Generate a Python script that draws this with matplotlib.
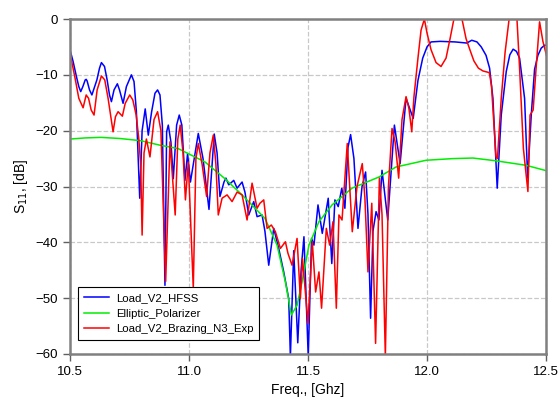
import matplotlib
matplotlib.use('Agg')
import matplotlib.pyplot as plt

plt.rcParams['font.family'] = ['Liberation Sans', 'DejaVu Sans']

# HFSS simulation (freq GHz, dB)
hfss_f = [10.500, 10.513, 10.527, 10.537, 10.545, 10.554, 10.564, 10.568, 10.572, 10.582,
          10.592, 10.613, 10.624, 10.632, 10.645, 10.656, 10.666, 10.674, 10.685, 10.699,
          10.708, 10.723, 10.737, 10.758, 10.769, 10.779, 10.793, 10.803, 10.816, 10.829,
          10.843, 10.857, 10.868, 10.878, 10.888, 10.899, 10.906, 10.913, 10.924, 10.934,
          10.948, 10.959, 10.970, 10.983, 10.994, 11.006, 11.039, 11.059, 11.084, 11.106,
          11.118, 11.130, 11.147, 11.155, 11.167, 11.188, 11.202, 11.223, 11.235, 11.251,
          11.272, 11.286, 11.307, 11.319, 11.335, 11.356, 11.377, 11.398, 11.419, 11.426,
          11.440, 11.457, 11.471, 11.483, 11.501, 11.515, 11.525, 11.542, 11.560, 11.585,
          11.600, 11.613, 11.627, 11.642, 11.655, 11.668, 11.679, 11.693, 11.710, 11.727,
          11.742, 11.752, 11.763, 11.773, 11.786, 11.798, 11.811, 11.835, 11.863, 11.887,
          11.912, 11.942, 11.962, 11.982, 12.000, 12.017, 12.055, 12.118, 12.167, 12.188,
          12.210, 12.228, 12.248, 12.263, 12.277, 12.295, 12.312, 12.333, 12.348, 12.362,
          12.376, 12.389, 12.410, 12.423, 12.438, 12.452, 12.466, 12.480, 12.494, 12.504]
hfss_db = [-5.5, -7.6, -10.3, -12.1, -13.0, -12.1, -10.9, -10.8, -11.1, -12.7,
           -13.6, -10.9, -8.8, -7.8, -8.5, -10.9, -13.6, -14.8, -12.7, -11.6,
           -12.7, -15.1, -12.1, -10.0, -11.2, -16.6, -32.1, -20.0, -16.1, -20.8,
           -16.6, -13.3, -12.7, -13.6, -19.0, -47.7, -20.2, -19.0, -22.0, -28.6,
           -19.0, -17.2, -19.0, -28.9, -24.1, -29.2, -20.5, -25.0, -34.1, -20.6,
           -24.0, -31.8, -29.2, -28.5, -29.7, -28.9, -30.3, -29.2, -31.0, -35.1,
           -32.7, -35.4, -35.1, -38.0, -44.1, -37.5, -41.1, -45.3, -50.1, -60.5,
           -41.5, -58.0, -45.0, -39.0, -60.5, -39.3, -40.5, -33.3, -38.4, -32.1,
           -43.8, -32.4, -33.6, -30.3, -33.9, -23.0, -20.7, -25.0, -37.5, -30.0,
           -27.4, -35.0, -53.6, -38.0, -34.5, -36.0, -27.1, -36.0, -19.0, -25.9,
           -14.2, -17.8, -11.0, -7.0, -5.0, -4.1, -4.0, -4.1, -4.3, -3.8,
           -4.1, -5.0, -6.5, -8.8, -14.2, -30.3, -17.2, -9.4, -6.4, -5.4,
           -5.8, -7.0, -14.2, -28.5, -17.2, -9.0, -6.5, -5.2, -4.7, -4.7]

# polarizer alone
pol_f = [10.500, 10.563, 10.630, 10.710, 10.798, 10.878, 10.954, 11.067, 11.151, 11.223,
         11.319, 11.370, 11.405, 11.430, 11.454, 11.475, 11.504, 11.546, 11.601, 11.685,
         11.798, 11.870, 11.996, 12.109, 12.193, 12.290, 12.416, 12.504]
pol_db = [-21.5, -21.3, -21.2, -21.4, -21.8, -22.6, -23.2, -25.6, -28.6, -31.5,
          -35.7, -40.5, -47.1, -53.0, -51.3, -47.1, -40.5, -36.3, -33.3, -30.3,
          -28.3, -26.5, -25.3, -25.0, -24.9, -25.4, -26.2, -27.2]

# measurement
exp_f = [10.500, 10.520, 10.537, 10.555, 10.568, 10.578, 10.589, 10.601, 10.614, 10.632,
         10.646, 10.660, 10.681, 10.691, 10.702, 10.720, 10.732, 10.751, 10.764, 10.778,
         10.789, 10.797, 10.803, 10.811, 10.821, 10.836, 10.853, 10.868, 10.882, 10.902,
         10.920, 10.942, 10.953, 10.963, 10.975, 10.985, 10.997, 11.018, 11.029, 11.039,
         11.055, 11.074, 11.088, 11.102, 11.113, 11.123, 11.139, 11.160, 11.181, 11.202,
         11.223, 11.244, 11.265, 11.286, 11.298, 11.314, 11.328, 11.346, 11.363, 11.384,
         11.405, 11.416, 11.433, 11.454, 11.468, 11.477, 11.500, 11.518, 11.532, 11.546,
         11.557, 11.577, 11.591, 11.605, 11.619, 11.630, 11.643, 11.665, 11.686, 11.706,
         11.728, 11.739, 11.752, 11.768, 11.784, 11.800, 11.811, 11.825, 11.838, 11.853,
         11.866, 11.881, 11.895, 11.912, 11.924, 11.936, 11.945, 11.962, 11.975, 11.989,
         12.000, 12.017, 12.038, 12.059, 12.080, 12.097, 12.113, 12.130, 12.147, 12.164,
         12.181, 12.197, 12.216, 12.235, 12.262, 12.271, 12.290, 12.296, 12.312, 12.328,
         12.345, 12.361, 12.378, 12.389, 12.405, 12.424, 12.433, 12.446, 12.458, 12.473,
         12.487, 12.505]
exp_db = [-6.1, -10.3, -14.2, -15.9, -13.6, -14.2, -16.3, -17.2, -12.7, -10.2,
          -10.9, -14.2, -20.2, -17.5, -16.6, -17.4, -15.1, -13.6, -14.5, -17.2,
          -21.4, -26.0, -38.7, -24.0, -21.5, -24.7, -18.0, -16.6, -20.0, -47.0,
          -22.0, -35.1, -21.5, -19.0, -24.0, -32.4, -25.6, -48.2, -25.0, -22.3,
          -26.0, -31.8, -24.0, -20.8, -26.0, -35.1, -32.1, -31.5, -32.7, -31.0,
          -31.5, -36.0, -29.4, -33.9, -33.0, -32.4, -37.5, -36.9, -38.1, -41.1,
          -39.9, -42.0, -44.1, -39.3, -50.1, -42.9, -54.5, -39.9, -48.9, -45.3,
          -51.8, -37.5, -40.5, -36.3, -51.8, -35.1, -36.0, -22.3, -38.1, -30.0,
          -25.9, -32.0, -45.3, -33.0, -58.1, -28.5, -35.0, -60.5, -30.0, -19.6,
          -22.0, -28.5, -18.0, -13.9, -16.0, -20.2, -14.0, -7.0, -2.0, 0.0,
          -2.5, -5.5, -7.8, -8.5, -7.0, -3.5, 0.0, 1.2, 0.0, -3.5,
          -5.6, -7.5, -8.8, -9.3, -9.6, -12.0, -24.7, -25.0, -14.2, -6.0,
          0.0, 1.5, 0.0, -8.8, -23.2, -30.9, -17.2, -16.3, -9.0, -0.5,
          -4.0, -7.0]

xticks = [10.5, 11.0, 11.5, 12.0, 12.5]
yticks = [0, -10, -20, -30, -40, -50, -60]

fig = plt.figure(figsize=(5.6, 4.05), dpi=100)
ax = fig.add_axes([0.125, 0.126, 0.85, 0.827])

ax.plot(hfss_f, hfss_db, color='#0000ff', lw=1.1, label='Load_V2_HFSS')
ax.plot(pol_f, pol_db, color='#00ee00', lw=1.1, label='Elliptic_Polarizer')
ax.plot(exp_f, exp_db, color='#ff0000', lw=1.1, label='Load_V2_Brazing_N3_Exp')

ax.set_xlim(10.5, 12.5)
ax.set_ylim(-60, 0)
ax.set_xticks(xticks)
ax.set_xticklabels(['%.1f' % v for v in xticks])
ax.set_yticks(yticks)
ax.grid(True, color='#c8c8c8', linestyle='--', lw=0.9)
ax.set_axisbelow(True)

for s in ax.spines.values():
    s.set_color('#808080')
    s.set_linewidth(1.8)
ax.tick_params(direction='out', length=5, width=1, color='#606060', labelsize=9.5)

ax.set_xlabel('Freq., [Ghz]', fontsize=10)
ax.set_ylabel('S$_{11}$, [dB]', fontsize=10)

leg = ax.legend(loc='lower left', bbox_to_anchor=(0.017, 0.042), borderaxespad=0,
                fontsize=8.2, fancybox=False, framealpha=1, handlelength=2.2,
                handletextpad=0.6, borderpad=0.5, labelspacing=0.5)
leg.get_frame().set_edgecolor('black')
leg.get_frame().set_linewidth(0.8)

fig.savefig('out.png', dpi=100)
